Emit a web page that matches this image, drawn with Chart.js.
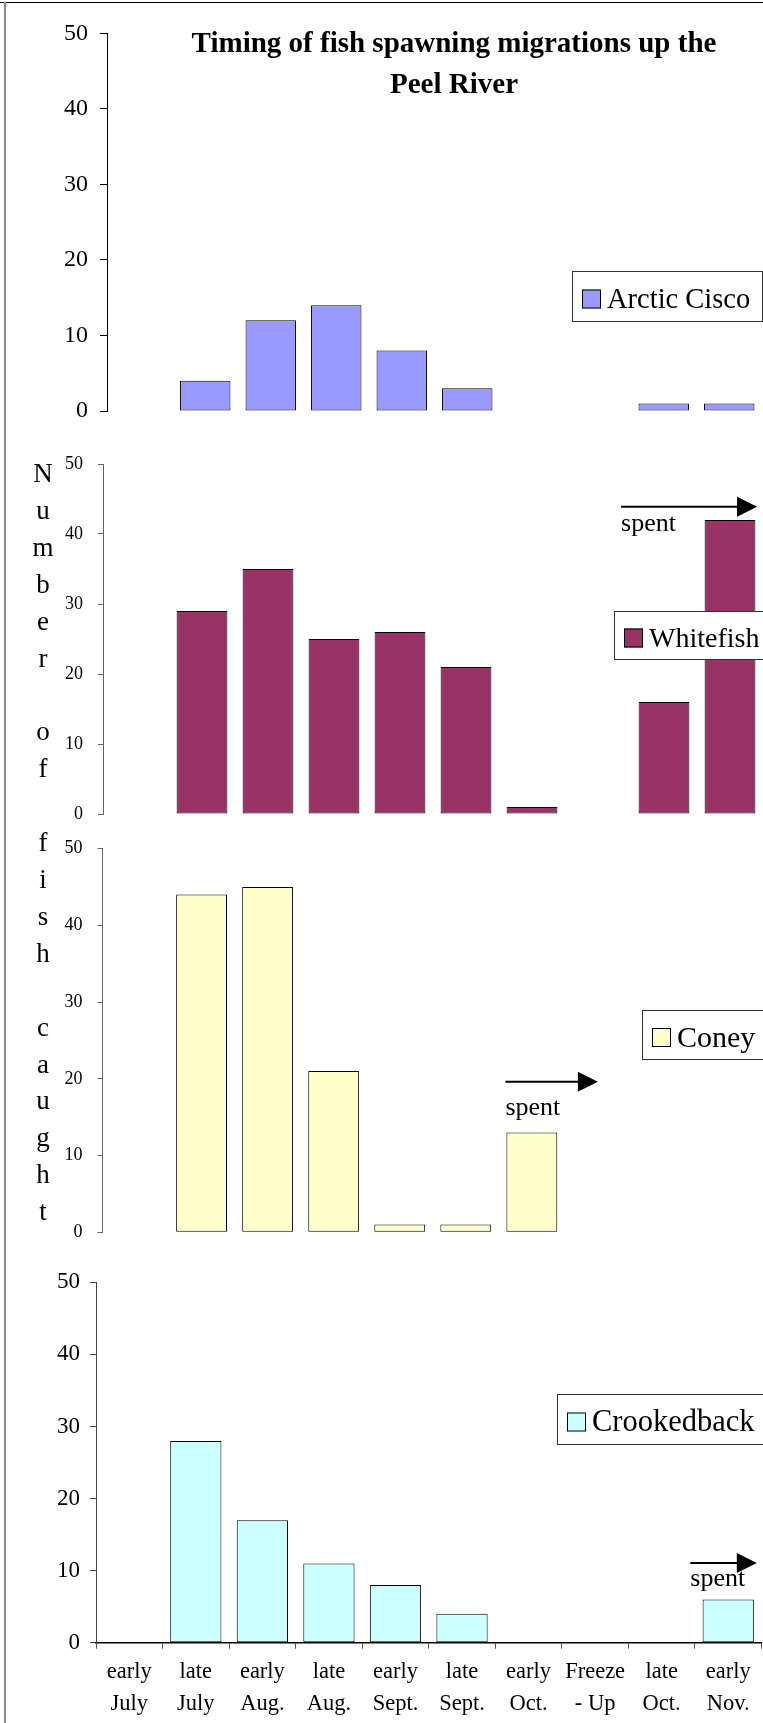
<!DOCTYPE html>
<html>
<head>
<meta charset="utf-8">
<title>Timing of fish spawning migrations up the Peel River</title>
<script src="https://cdn.jsdelivr.net/npm/chart.js@4.4.1/dist/chart.umd.min.js"></script>
<style>
  html, body { margin: 0; padding: 0; background: #fff; }
  body { width: 763px; height: 1723px; position: relative; overflow: hidden; }
  canvas.panel { position: absolute; left: 0; }
  #frameTop { position: absolute; left: 0; top: 2px; width: 763px; height: 1px; background: #000; }
  #frameLeft { position: absolute; left: 4px; top: 2px; width: 2px; height: 1721px; background: #8a8a8a; }
  #yTitle {
    position: absolute; left: 23px; top: 455px; width: 40px;
    text-align: center; white-space: pre; color: #000;
    font-family: 'Liberation Serif', 'Times New Roman', serif;
    font-size: 27px; line-height: 36.9px;
  }
</style>
</head>
<body>
<div id="frameTop"></div>
<div id="frameLeft"></div>
<canvas id="p1" class="panel" width="763" height="440" style="top:0px"></canvas>
<canvas id="p2" class="panel" width="763" height="390" style="top:440px"></canvas>
<canvas id="p3" class="panel" width="763" height="425" style="top:830px"></canvas>
<canvas id="p4" class="panel" width="763" height="468" style="top:1255px"></canvas>
<div id="yTitle"></div>
<script>
// data
const periods = [['early', 'July'], ['late', 'July'], ['early', 'Aug.'], ['late', 'Aug.'], ['early', 'Sept.'],
  ['late', 'Sept.'], ['early', 'Oct.'], ['Freeze', '- Up'], ['late', 'Oct.'], ['early', 'Nov.']];
const arcticCisco = [0, 4, 12, 14, 8, 3, 0, 0, 1, 1];
const whitefish = [0, 29, 35, 25, 26, 21, 1, 0, 16, 42];
const coney = [0, 44, 45, 21, 1, 1, 13, 0, 0, 0];
const crookedback = [0, 28, 17, 11, 8, 4, 0, 0, 0, 6];
const countTicks = [0, 10, 20, 30, 40, 50];
const chartTitle = ['Timing of fish spawning migrations up the', 'Peel River'];
const axisTitle = 'Number of fish caught';

const serif = "'Liberation Serif', 'Times New Roman', serif";

// stacked y title, one letter per line, words split by a blank line
document.getElementById('yTitle').textContent = axisTitle.split(' ').map(w => w.split('').join('\n')).join('\n \n');

// title, legend box and "spent" arrows
const decor = {
  id: 'decor',
  afterDraw(chart, args, o) {
    const ctx = chart.ctx, xs = chart.scales.x, ys = chart.scales.y;
    ctx.save();
    ctx.fillStyle = '#000';
    ctx.textBaseline = 'alphabetic';
    if (o.title) {
      ctx.font = `bold ${o.title.size}px ${serif}`;
      ctx.textAlign = 'center';
      o.title.lines.forEach((t, i) => ctx.fillText(t, o.title.x, o.title.y + i * o.title.gap));
    }
    if (o.arrow) {
      const a = o.arrow;
      const x0 = xs.getPixelForValue(a.from), x1 = xs.getPixelForValue(a.to), y = ys.getPixelForValue(a.at);
      ctx.strokeStyle = '#000';
      ctx.lineWidth = 2;
      ctx.beginPath(); ctx.moveTo(x0, y); ctx.lineTo(x1 - 18, y); ctx.stroke();
      ctx.beginPath(); ctx.moveTo(x1, y); ctx.lineTo(x1 - 20, y - 10); ctx.lineTo(x1 - 20, y + 10); ctx.closePath(); ctx.fill();
      ctx.font = `26px ${serif}`;
      ctx.textAlign = 'left';
      ctx.fillText(a.text, x0, ys.getPixelForValue(a.textAt));
    }
    if (o.legend) {
      const L = o.legend, ds = chart.data.datasets[0];
      ctx.fillStyle = '#fff';
      ctx.fillRect(L.x, L.y, L.w, L.h);
      ctx.strokeStyle = '#333';
      ctx.lineWidth = 1;
      ctx.strokeRect(L.x + 0.5, L.y + 0.5, L.w, L.h);
      const cy = L.y + L.h / 2;
      ctx.fillStyle = ds.backgroundColor;
      ctx.fillRect(L.x + 10, cy - 6.5, 19, 19);
      ctx.strokeStyle = '#000';
      ctx.strokeRect(L.x + 10.5, cy - 6, 18, 18);
      ctx.fillStyle = '#000';
      ctx.font = `${L.size}px ${serif}`;
      ctx.textAlign = 'left';
      ctx.fillText(ds.label, L.x + 35, cy + 12);
    }
    ctx.restore();
  }
};

function panel(id, label, values, color, o) {
  new Chart(document.getElementById(id), {
    type: 'bar',
    data: {
      labels: periods,
      datasets: [{
        label: label, data: values, backgroundColor: color,
        borderColor: '#000', borderWidth: 1, borderSkipped: false,
        categoryPercentage: 1, barPercentage: 0.77
      }]
    },
    options: {
      responsive: false, animation: false, devicePixelRatio: 1,
      layout: { padding: o.pad },
      plugins: { legend: { display: false }, tooltip: { enabled: false }, decor: o.decor },
      scales: {
        x: {
          display: !!o.xAxis,
          grid: { drawOnChartArea: false, offset: true, tickLength: 6, color: '#555' },
          border: { display: true, color: '#000', width: 1.5 },
          ticks: {
            autoSkip: false, maxRotation: 0, color: '#000', padding: 7,
            font: { family: serif, size: 22.5, lineHeight: '32px' }
          },
          afterFit: s => { s.height = o.xAxis || 0; s.paddingLeft = 0; s.paddingRight = 0; }
        },
        y: {
          min: 0, max: 50,
          afterBuildTicks: s => { s.ticks = countTicks.map(v => ({ value: v })); },
          ticks: { color: '#000', padding: o.yPad, font: { family: serif, size: o.ySize } },
          grid: { drawOnChartArea: false, tickLength: o.yTick, color: o.axisColor },
          border: { color: o.axisColor },
          afterFit: s => { s.width = o.yWidth; s.paddingTop = 0; s.paddingBottom = 0; }
        }
      }
    },
    plugins: [decor]
  });
}

panel('p1', 'Arctic Cisco', arcticCisco, '#9999FF', {
  pad: { top: 33.3, bottom: 29, left: 0, right: 1 }, yWidth: 107,
  ySize: 24, yPad: 12, yTick: 7, axisColor: '#000',
  decor: {
    title: { lines: chartTitle, x: 454, y: 51.7, gap: 41.6, size: 29 },
    legend: { x: 572, y: 271, w: 190, h: 50, size: 28.5 }
  }
});

panel('p2', 'Whitefish', whitefish, '#993366', {
  pad: { top: 24, bottom: 16, left: 0, right: 0 }, yWidth: 103,
  ySize: 18, yPad: 15, yTick: 5, axisColor: '#666',
  decor: {
    arrow: { from: 7.35, to: 9.41, at: 43.9, text: 'spent', textAt: 40.5 },
    legend: { x: 614, y: 171, w: 160, h: 48, size: 28 }
  }
});

panel('p3', 'Coney', coney, '#FFFFCC', {
  pad: { top: 18.5, bottom: 22.7, left: 0, right: 0 }, yWidth: 102.5,
  ySize: 18, yPad: 15, yTick: 5, axisColor: '#666',
  decor: {
    arrow: { from: 5.6, to: 7.0, at: 19.6, text: 'spent', textAt: 15.3 },
    legend: { x: 642, y: 180, w: 130, h: 49, size: 30 }
  }
});

panel('p4', 'Crookedback', crookedback, '#CCFFFF', {
  pad: { top: 27.3, bottom: 0, left: 0, right: 1.5 }, yWidth: 96, xAxis: 80.3,
  ySize: 23, yPad: 10, yTick: 6, axisColor: '#444',
  decor: {
    arrow: { from: 8.43, to: 9.43, at: 11.06, text: 'spent', textAt: 7.87 },
    legend: { x: 557, y: 139, w: 210, h: 50, size: 30.5 }
  }
});
</script>
</body>
</html>
